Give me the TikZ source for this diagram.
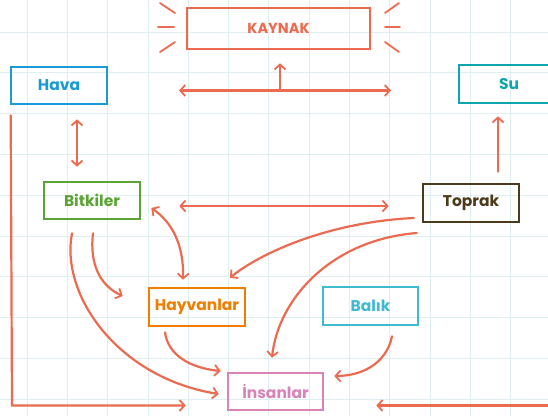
\documentclass[tikz,border=0pt]{standalone}
\usepackage{fontspec}
\setmainfont{Poppins}
\usetikzlibrary{arrows.meta,calc}
\definecolor{lnc}{HTML}{EC6B50}
\definecolor{havac}{HTML}{1A9AD6}
\definecolor{bitc}{HTML}{5BA334}
\definecolor{suc}{HTML}{0EA5AE}
\definecolor{topc}{HTML}{4B3B1B}
\definecolor{hayc}{HTML}{EF7D00}
\definecolor{balc}{HTML}{3FBAD2}
\definecolor{insc}{HTML}{D884B8}
\definecolor{gridc}{HTML}{DDEFF0}
\tikzset{
  box/.style={draw=#1, text=#1, line width=2.6pt, rectangle, minimum width=96pt, minimum height=37pt, inner sep=0pt, font=\bfseries\fontsize{15.5}{18}\selectfont},
  conn/.style={draw=lnc, line width=2.2pt, line cap=round},
  tip/.style={-{Straight Barb[length=5pt,width=11pt,line width=1.8pt]}},
  tips/.style={{Straight Barb[length=5pt,width=11pt,line width=1.8pt]}-{Straight Barb[length=5pt,width=11pt,line width=1.8pt]}},
  ray/.style={draw=lnc, line width=1.8pt, line cap=round}
}
\begin{document}
\begin{tikzpicture}[x=1pt,y=-1pt]
\useasboundingbox (0,0) rectangle (548,416);
\fill[white] (0,0) rectangle (548,416);
% grid
\foreach \i in {0,...,12} {\draw[gridc, line width=0.8pt] ({27+40.3*\i},0) -- ({27+40.3*\i},416);}
\foreach \j in {0,...,9} {\draw[gridc, line width=0.8pt] (0,{32+40.8*\j}) -- (548,{32+40.8*\j});}
% nodes
\node[box=lnc, minimum width=183pt, minimum height=41pt, font=\bfseries\fontsize{14.5}{17}\selectfont] (kay) at (278.5,28.5) {KAYNAK};
\node[box=havac] (hava) at (59,85.5) {Hava};
\node[box=bitc] (bit) at (92,200.5) {Bitkiler};
\node[box=suc, minimum width=100pt, minimum height=38pt] (su) at (509,84) {Su};
\node[box=topc, minimum height=38pt] (top) at (471,203) {Toprak};
\node[box=hayc, minimum height=38pt] (hay) at (197,307) {Hayvanlar};
\node[box=balc, minimum width=95pt, minimum height=38pt] (bal) at (370.5,306) {Balık};
\node[box=insc, minimum width=95pt] (ins) at (275.5,391.5) {İnsanlar};
% rays
\draw[ray] (160,3) -- (175,13);
\draw[ray] (158,27) -- (174,27);
\draw[ray] (160,52) -- (175,42);
\draw[ray] (385,13) -- (399,3);
\draw[ray] (385,27) -- (400,27);
\draw[ray] (385,42) -- (399,52);
% connectors
\coordinate (kl) at (179,90.5);
\coordinate (kr) at (391,90.5);
\coordinate (km) at (280,90.5);
\draw[conn, tips] (kl) -- (kr);
\draw[conn, tip] (km) -- ($(kay.south)+(1.5,13)$);
\draw[conn, tips] ($(hava.south)+(18,14)$) -- ($(bit.north)+(-15,-14)$);
\draw[conn, tips] ($(bit.east)+(38,5.5)$) -- ($(top.west)+(-33,3)$);
\draw[conn, tip] ($(top.north)+(27,-11)$) -- ($(su.south)+(-11,12)$);
\draw[conn, tips] ($(bit.east)+(10,7.5)$) .. controls (172,222) and (184,245) .. ($(hay.north)+(-14,-7)$);
\draw[conn, tip] ($(bit.south)+(1,13)$) .. controls (89,268) and (103,287) .. ($(hay.west)+(-25,-11)$);
\draw[conn, tip] ($(bit.south)+(-20,13)$) .. controls (60,295) and (118,378) .. ($(ins.west)+(-8,2.5)$);
\draw[conn, tip] ($(hay.south)+(-32,5)$) .. controls (168,355) and (190,368) .. ($(ins.west)+(-6,-20.5)$);
\draw[conn, tip] ($(top.west)+(-8,15)$) .. controls (330,222) and (262,252) .. ($(hay.north)+(33,-9)$);
\draw[conn, tip] ($(top.west)+(-5,30)$) .. controls (330,240) and (278,300) .. ($(ins.north)+(-3.5,-14)$);
\draw[conn, tip] ($(bal.south)+(21.5,10)$) .. controls (386,365) and (360,376) .. ($(ins.east)+(10,-15.5)$);
\coordinate (hc) at (12,405.5);
\coordinate (sc) at (548,405.5);
\draw[conn, tip] ($(hava.south west)+(1,10)$) -- (hc) -- ($(ins.west)+(-41,14)$);
\draw[conn, tip] (sc) -- ($(ins.east)+(52,14)$);
\end{tikzpicture}
\end{document}
